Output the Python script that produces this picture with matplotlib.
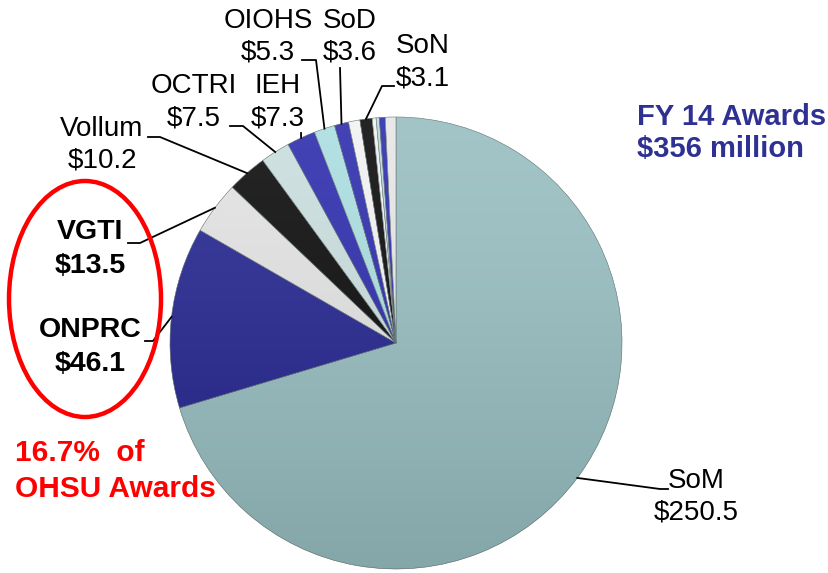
import numpy as np
import matplotlib
matplotlib.use("Agg")
import matplotlib.pyplot as plt
from matplotlib.patches import Ellipse

plt.rcParams['font.family'] = ['Liberation Sans', 'DejaVu Sans']

# FY14 awards, $ million (unlabeled thin slices)
names = ["SoM", "ONPRC", "VGTI", "Vollum", "OCTRI", "IEH", "OIOHS", "SoD",
         "", "SoN", "", "", "", ""]
values = [250.5, 46.1, 13.5, 10.2, 7.5, 7.3, 5.3, 3.6, 2.9, 3.1, 1.0, 0.8, 1.5, 2.7]
colors = ["#96BDC0", "#23238F", "#E2E2E2", "#080808", "#C9DDDD", "#2A2AAC",
          "#A9DDE0", "#2A2AAC", "#F2F2F2", "#080808", "#F0F0F0", "#B8DADB",
          "#2A2AAC", "#E6E6E6"]

W, H = 829, 573
fig = plt.figure(figsize=(W / 100, H / 100), dpi=100)
ax = fig.add_axes([0, 0, 1, 1])

def Y(py):
    return H - py

cx, cy, r = 396, Y(343), 226
wedges, _ = ax.pie(values, colors=colors, startangle=90, counterclock=False,
                   center=(cx, cy), radius=r, frame=True,
                   wedgeprops=dict(edgecolor="#5A6A6A", linewidth=0.4))
ax.set_xlim(0, W)
ax.set_ylim(0, H)
ax.set_aspect("equal")
ax.axis("off")

# subtle vertical shading over the pie
grad = np.linspace(1, 0, 256).reshape(-1, 1)
img = ax.imshow(grad, extent=(cx - r, cx + r, cy - r, cy + r), cmap="Greys",
                alpha=0.12, origin="lower", zorder=3, aspect="auto")
circ = plt.Circle((cx, cy), r, transform=ax.transData)
img.set_clip_path(circ)

def edge(i):
    w = wedges[i]
    a = np.deg2rad((w.theta1 + w.theta2) / 2)
    return cx + r * np.cos(a), cy + r * np.sin(a)

def leader(i, pts):
    ex, ey = edge(i)
    xs = [ex] + [p[0] for p in pts]
    ys = [ey] + [Y(p[1]) for p in pts]
    ax.plot(xs, ys, color="black", lw=1.3, zorder=4)

def label(x, y1, y2, t1, t2, bold=False, size=20):
    fw = "bold" if bold else "normal"
    ax.text(x, Y(y1), t1, ha="center", va="center", fontsize=size, fontweight=fw)
    ax.text(x, Y(y2), t2, ha="center", va="center", fontsize=size, fontweight=fw)

amt = ["$%.1f" % v for v in values]

# SoM
leader(0, [(660, 489), (668, 489)])
label(696, 481, 512, names[0], amt[0])
# ONPRC
leader(1, [(153, 341), (145, 341)])
label(90, 330, 364, names[1], amt[1], bold=True, size=20.5)
# VGTI
leader(2, [(140, 243), (128, 243)])
label(90, 232, 266, names[2], amt[2], bold=True, size=20.5)
# Vollum
leader(3, [(160, 137), (148, 137)])
label(102, 129, 161, names[3], amt[3])
# OCTRI
leader(4, [(243, 126), (230, 126)])
label(194, 86, 118, names[4], amt[4])
# IEH
leader(5, [(301, 133)])
label(278, 86, 118, names[5], amt[5])
# OIOHS
leader(6, [(316, 60), (302, 60)])
label(268, 21, 53, names[6], amt[6])
# SoD
leader(7, [(340, 68)])
label(350, 21, 53, names[7], amt[7])
# SoN
leader(9, [(382, 86), (394, 86)])
ax.text(396, Y(46), names[9], ha="left", va="center", fontsize=20)
ax.text(396, Y(78), amt[9], ha="left", va="center", fontsize=20)

# highlight ellipse
ax.add_patch(Ellipse((85, Y(299)), 152, 236, fill=False, edgecolor="#FF0000", lw=3.2, zorder=5))
ax.text(15, Y(453), "16.7%  of", ha="left", va="center", fontsize=21.5,
        fontweight="bold", color="#FF0000")
ax.text(15, Y(489), "OHSU Awards", ha="left", va="center", fontsize=21.5,
        fontweight="bold", color="#FF0000")

ax.text(637, Y(117), "FY 14 Awards", ha="left", va="center", fontsize=21,
        fontweight="bold", color="#2E3192")
ax.text(637, Y(149), "$356 million", ha="left", va="center", fontsize=21,
        fontweight="bold", color="#2E3192")

fig.savefig("out.png", dpi=100)
